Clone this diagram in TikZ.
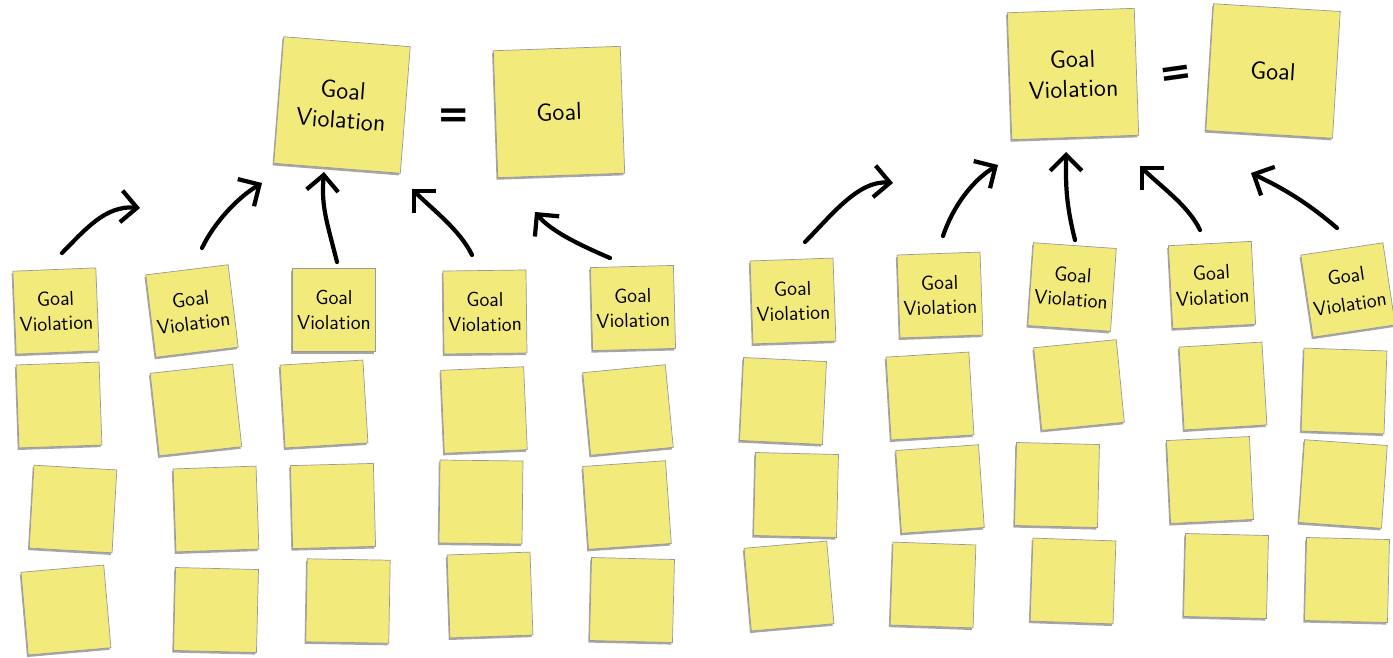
\documentclass[tikz,border=0pt]{standalone}
\usepackage{amsmath}
\usepackage{fontspec}
\usepackage{tikz}
\usetikzlibrary{arrows.meta,shadows}

\newfontfamily\eqfont{DejaVu Sans}
\definecolor{postit}{RGB}{243,234,124}

\tikzset{
	sticky/.style={rectangle, fill=postit, draw=black!40, line width=0.4pt, minimum size=1.66cm, inner sep=0pt, align=center,
		font=\sffamily\fontsize{11.5}{14}\selectfont,
		drop shadow={shadow xshift=-0.7pt, shadow yshift=-1.2pt, fill=black, opacity=0.35}},
	bigsticky/.style={sticky, minimum size=2.54cm, font=\sffamily\fontsize{14}{17}\selectfont},
	arr/.style={line width=2.4pt, line cap=round, -{Straight Barb[length=9pt,width=18pt,line width=2.4pt]}},
	eq/.style={font=\eqfont\bfseries\fontsize{22}{22}\selectfont, inner sep=0pt}
}

\begin{document}
\begin{tikzpicture}[x=0.02cm, y=-0.02cm]
	\useasboundingbox (0,0) rectangle (1393,658);

	\node[bigsticky, rotate=-4.5] (gvL) at (342,105) {Goal\\Violation};
	\node[bigsticky, rotate=2] (goalL) at (559,112) {Goal};
	\node[eq] (eqL) at (454,118) {=};

	\node[sticky, rotate=2.3] (lv1) at (56,311) {Goal\\Violation};
	\node[sticky, rotate=7] (lv2) at (192,311) {Goal\\Violation};
	\node[sticky] (lv3) at (334,310) {Goal\\Violation};
	\node[sticky, rotate=0.7] (lv4) at (485,312) {Goal\\Violation};
	\node[sticky, rotate=1.5] (lv5) at (633,308) {Goal\\Violation};

	\node[sticky, rotate=2] (lb21) at (59,405) {};
	\node[sticky, rotate=6.3] (lb22) at (196,410) {};
	\node[sticky, rotate=3.5] (lb23) at (324,404) {};
	\node[sticky, rotate=2.5] (lb24) at (484,410) {};
	\node[sticky, rotate=5.5] (lb25) at (628,410) {};

	\node[sticky, rotate=-3.3] (lb31) at (73,509) {};
	\node[sticky, rotate=2] (lb32) at (216,509) {};
	\node[sticky, rotate=1.5] (lb33) at (333,506) {};
	\node[sticky, rotate=-0.7] (lb34) at (481,502) {};
	\node[sticky, rotate=4] (lb35) at (627,505) {};

	\node[sticky, rotate=5] (lb41) at (66,610) {};
	\node[sticky, rotate=-1.4] (lb42) at (216,610) {};
	\node[sticky, rotate=-1] (lb43) at (348,601) {};
	\node[sticky, rotate=2] (lb44) at (490,595) {};
	\node[sticky, rotate=-1.4] (lb45) at (632,600) {};

	\coordinate (ls1) at (62,253);   \coordinate (lt1) at (140,208);
	\coordinate (ls2) at (202,248);  \coordinate (lt2) at (262,183);
	\coordinate (ls3) at (337,262);  \coordinate (lt3) at (324,172);
	\coordinate (ls4) at (472,255);  \coordinate (lt4) at (412,189);
	\coordinate (ls5) at (610,258);  \coordinate (lt5) at (535,212);
	\draw[arr] (ls1) .. controls +(22,-22) and +(-35,-3) .. (lt1);
	\draw[arr] (ls2) .. controls +(12,-25) and +(-25,15) .. (lt2);
	\draw[arr] (ls3) .. controls +(-10,-40) and +(-3,35) .. (lt3);
	\draw[arr] (ls4) .. controls +(-12,-25) and +(20,20) .. (lt4);
	\draw[arr] (ls5) .. controls +(-35,-15) and +(15,18) .. (lt5);

	\node[bigsticky, rotate=2] (gvR) at (1073,74) {Goal\\Violation};
	\node[bigsticky, rotate=-3.5] (goalR) at (1273,71) {Goal};
	\node[eq, rotate=8] (eqR) at (1176,76) {=};

	\node[sticky, rotate=2] (rv1) at (793,301) {Goal\\Violation};
	\node[sticky, rotate=2] (rv2) at (940,295) {Goal\\Violation};
	\node[sticky, rotate=-4] (rv3) at (1072,287) {Goal\\Violation};
	\node[sticky, rotate=3] (rv4) at (1212,285) {Goal\\Violation};
	\node[sticky, rotate=8.5, font=\sffamily\fontsize{11.5}{16}\selectfont] (rv5) at (1348,290) {Goal\\Violation};

	\node[sticky, rotate=-2.8] (rb21) at (783,401) {};
	\node[sticky, rotate=3.5] (rb22) at (930,396) {};
	\node[sticky, rotate=5.6] (rb23) at (1079,385) {};
	\node[sticky, rotate=3.5] (rb24) at (1223,386) {};
	\node[sticky, rotate=-2] (rb25) at (1344,391) {};

	\node[sticky, rotate=-1.4] (rb31) at (796,495) {};
	\node[sticky, rotate=4] (rb32) at (940,489) {};
	\node[sticky, rotate=-1.4] (rb33) at (1057,485) {};
	\node[sticky, rotate=2.8] (rb34) at (1210,480) {};
	\node[sticky, rotate=-4] (rb35) at (1343,484) {};

	\node[sticky, rotate=5] (rb41) at (789,586) {};
	\node[sticky, rotate=-2] (rb42) at (933,585) {};
	\node[sticky, rotate=-2] (rb43) at (1073,581) {};
	\node[sticky, rotate=-1.4] (rb44) at (1226,576) {};
	\node[sticky, rotate=-1.4] (rb45) at (1347,580) {};

	\coordinate (rs1) at (805,242);   \coordinate (rt1) at (893,183);
	\coordinate (rs2) at (943,236);   \coordinate (rt2) at (998,165);
	\coordinate (rs3) at (1075,240);  \coordinate (rt3) at (1066,152);
	\coordinate (rs4) at (1200,230);  \coordinate (rt4) at (1140,166);
	\coordinate (rs5) at (1337,228);  \coordinate (rt5) at (1251,173);
	\draw[arr] (rs1) .. controls +(25,-25) and +(-35,-3) .. (rt1);
	\draw[arr] (rs2) .. controls +(10,-30) and +(-25,15) .. (rt2);
	\draw[arr] (rs3) .. controls +(-10,-40) and +(0,30) .. (rt3);
	\draw[arr] (rs4) .. controls +(-12,-25) and +(20,20) .. (rt4);
	\draw[arr] (rs5) .. controls +(-35,-30) and +(25,12) .. (rt5);
\end{tikzpicture}
\end{document}
